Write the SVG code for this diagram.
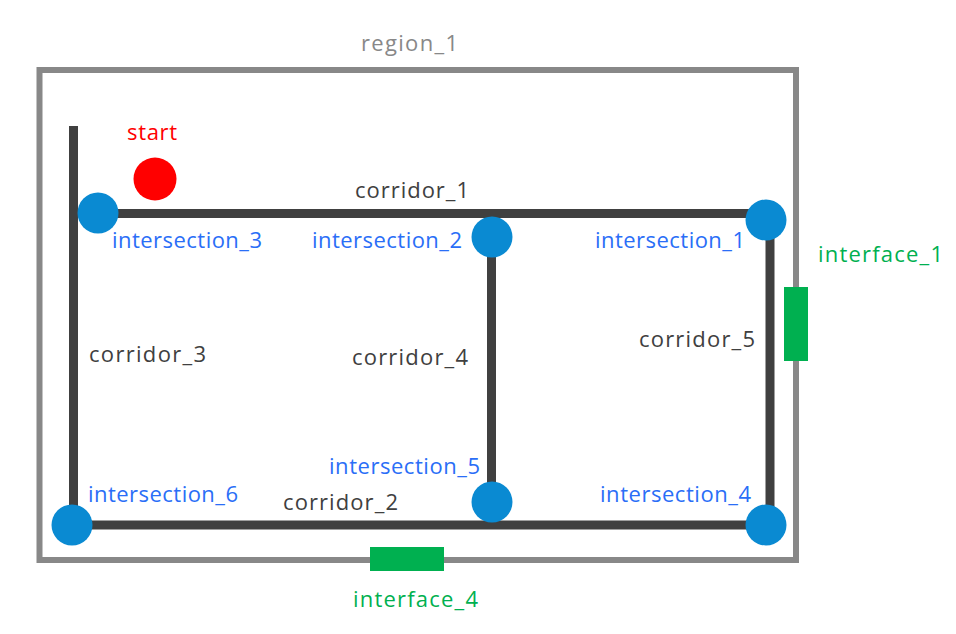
<svg xmlns="http://www.w3.org/2000/svg" width="956" height="634" viewBox="0 0 956 634">
<style>
text{font-family:"Open Sans","Noto Sans","Liberation Sans",sans-serif;font-size:22px}
.ix{fill:#2A6EF7}
.cl{fill:#404040}
.gn{fill:#00B050}
.cor{stroke:#404040;stroke-width:9;fill:none}
.node{fill:#0A8AD2}
</style>
<rect width="956" height="634" fill="#fff"/>
<g id="region_1">
<rect x="39.5" y="70" width="756.5" height="490" fill="none" stroke="#888" stroke-width="6"/>
<text x="361" y="51" fill="#888" textLength="97" lengthAdjust="spacing">region_1</text>
</g>
<g id="connectors">
<line class="cor" x1="73.5" y1="126" x2="73.5" y2="525"/>
<line class="cor" x1="98" y1="213.5" x2="770" y2="213.5"/>
<line class="cor" x1="770" y1="220" x2="770" y2="525"/>
<line class="cor" x1="491.5" y1="237" x2="491.5" y2="502"/>
<line class="cor" x1="72" y1="525" x2="766" y2="525"/>
<text class="cl" x="355" y="198" textLength="114" lengthAdjust="spacing">corridor_1</text>
<text class="cl" x="283" y="510" textLength="115" lengthAdjust="spacing">corridor_2</text>
<text class="cl" x="89" y="362" textLength="117" lengthAdjust="spacing">corridor_3</text>
<text class="cl" x="352" y="365" textLength="116" lengthAdjust="spacing">corridor_4</text>
<text class="cl" x="639" y="347" textLength="116" lengthAdjust="spacing">corridor_5</text>
</g>
<g id="start">
<circle cx="155" cy="179" r="21.5" fill="#FF0000"/>
<text x="127" y="140" fill="#FF0000" textLength="50" lengthAdjust="spacing">start</text>
</g>
<g id="intersection_1">
<circle class="node" cx="766" cy="220" r="20.5"/>
<text class="ix" x="595" y="248" textLength="150" lengthAdjust="spacing">intersection_1</text>
</g>
<g id="intersection_2">
<circle class="node" cx="492" cy="237" r="20.5"/>
<text class="ix" x="312" y="248" textLength="150" lengthAdjust="spacing">intersection_2</text>
</g>
<g id="intersection_3">
<circle class="node" cx="98" cy="213" r="20.5"/>
<text class="ix" x="112" y="248" textLength="150" lengthAdjust="spacing">intersection_3</text>
</g>
<g id="intersection_4">
<circle class="node" cx="766" cy="525" r="20.5"/>
<text class="ix" x="600" y="502" textLength="151" lengthAdjust="spacing">intersection_4</text>
</g>
<g id="intersection_5">
<circle class="node" cx="492" cy="502" r="20.5"/>
<text class="ix" x="329" y="474" textLength="151" lengthAdjust="spacing">intersection_5</text>
</g>
<g id="intersection_6">
<circle class="node" cx="72" cy="525" r="20.5"/>
<text class="ix" x="88" y="502" textLength="150" lengthAdjust="spacing">intersection_6</text>
</g>
<g id="interface_1">
<rect x="784" y="287" width="24" height="74" fill="#00B050"/>
<text class="gn" x="818" y="262" textLength="125" lengthAdjust="spacing">interface_1</text>
</g>
<g id="interface_4">
<rect x="370" y="547" width="74" height="24" fill="#00B050"/>
<text class="gn" x="353" y="607" textLength="125" lengthAdjust="spacing">interface_4</text>
</g>
</svg>
